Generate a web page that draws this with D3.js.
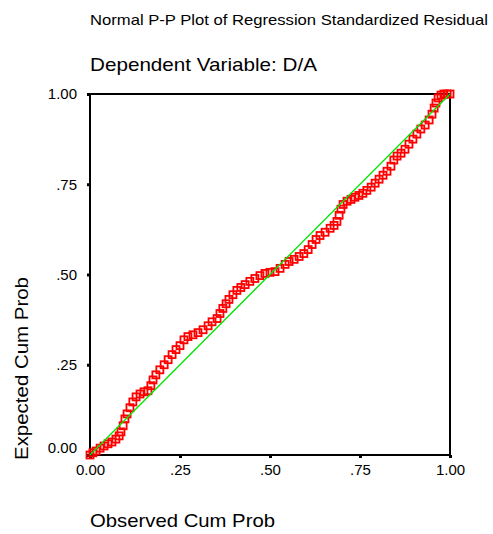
<!DOCTYPE html>
<html>
<head>
<meta charset="utf-8">
<script src="https://cdn.jsdelivr.net/npm/d3@7/dist/d3.min.js"></script>
<style>
  body { margin: 0; background: #fff; }
  text { font-family: Arial, "Liberation Sans", sans-serif; fill: #000; }
</style>
</head>
<body>
<div id="chart"></div>
<script>
/* Data */
var observedProb = [0, .008, .017, .028, .039, .050, .061, .072, .081, .086, .092, .097, .103, .111,
    .119, .128, .139, .150, .161, .169, .175, .183, .194, .206, .217, .228, .239, .250, .261,
    .272, .286, .300, .314, .328, .339, .353, .361, .369, .378, .386, .397, .408, .419, .431,
    .444, .458, .472, .486, .500, .514, .528, .542, .553, .567, .581, .594, .606, .617, .628,
    .639, .653, .667, .678, .686, .692, .697, .703, .714, .725, .736, .747, .758, .769, .781,
    .792, .803, .814, .825, .836, .844, .853, .864, .875, .886, .897, .908, .919, .931, .942,
    .950, .956, .961, .967, .975, .983, .992, 1.0];
var expectedProb = [0, .006, .011, .019, .025, .031, .036, .044, .053, .064, .081, .100, .114, .131,
    .147, .161, .169, .175, .178, .192, .208, .222, .236, .250, .264, .278, .292, .303, .319,
    .328, .333, .339, .347, .358, .369, .378, .392, .406, .419, .431, .444, .456, .464, .472,
    .481, .489, .497, .503, .506, .508, .517, .528, .536, .542, .550, .558, .569, .583, .597,
    .608, .617, .628, .636, .647, .664, .681, .694, .703, .708, .714, .719, .725, .733, .742,
    .753, .764, .775, .786, .800, .817, .828, .836, .847, .861, .875, .889, .903, .914, .928,
    .944, .961, .975, .989, .997, 1.0, 1.0, 1.0];

var tickValues = [0, .25, .5, .75, 1];
var tickLabels = ["0.00", ".25", ".50", ".75", "1.00"];

var titleText = "Normal P-P Plot of Regression Standardized Residual";
var subtitleText = "Dependent Variable: D/A";
var xTitle = "Observed Cum Prob";
var yTitle = "Expected Cum Prob";

var width = 493, height = 534;
var plotLeft = 90, plotRight = 450, plotTop = 94, plotBottom = 455;

var points = observedProb.map(function(d, i){ return {x: d, y: expectedProb[i]}; });

var svg = d3.select('#chart')
    .append('svg')
    .attr('width', width)
    .attr('height', height);

var x = d3.scaleLinear().domain([0, 1]).range([plotLeft, plotRight]);
var y = d3.scaleLinear().domain([0, 1]).range([plotBottom, plotTop]);

/* titles */
svg.append('text')
    .attr('x', 90).attr('y', 25)
    .attr('font-size', 15)
    .attr('textLength', 398).attr('lengthAdjust', 'spacingAndGlyphs')
    .text(titleText);
svg.append('text')
    .attr('x', 90).attr('y', 71)
    .attr('font-size', 19)
    .attr('textLength', 227).attr('lengthAdjust', 'spacingAndGlyphs')
    .text(subtitleText);

/* axes: small square tick marks, labels */
var xAxis = d3.axisBottom(x)
    .tickValues(tickValues)
    .tickFormat(function(d, i){ return tickLabels[i]; })
    .tickSize(3)
    .tickPadding(6);
var gx = svg.append('g')
    .attr('transform', 'translate(0,' + plotBottom + ')')
    .call(xAxis);
gx.select('.domain').remove();
gx.selectAll('line').attr('stroke', '#000').attr('stroke-width', 3);
gx.selectAll('text').attr('font-size', 15).attr('font-family', 'Arial, "Liberation Sans", sans-serif');

var yAxis = d3.axisLeft(y)
    .tickValues(tickValues)
    .tickFormat(function(d, i){ return tickLabels[i]; })
    .tickSize(3)
    .tickPadding(10);
var gy = svg.append('g')
    .attr('transform', 'translate(' + plotLeft + ',0)')
    .call(yAxis);
gy.select('.domain').remove();
gy.selectAll('line').attr('stroke', '#000').attr('stroke-width', 3);
gy.selectAll('text')
    .attr('font-size', 15)
    .attr('font-family', 'Arial, "Liberation Sans", sans-serif')
    .attr('dy', function(d){ return d === 0 ? '-0.2em' : '0.32em'; });

/* frame */
svg.append('rect')
    .attr('x', plotLeft).attr('y', plotTop)
    .attr('width', plotRight - plotLeft).attr('height', plotBottom - plotTop)
    .attr('fill', 'none')
    .attr('stroke', '#000')
    .attr('stroke-width', 2);

/* points: open red squares */
svg.append('g')
    .selectAll('rect')
    .data(points)
    .enter()
    .append('rect')
    .attr('x', function(d){ return x(d.x) - 3.5; })
    .attr('y', function(d){ return y(d.y) - 3.5; })
    .attr('width', 7)
    .attr('height', 7)
    .attr('fill', 'none')
    .attr('stroke', '#ff0000')
    .attr('stroke-width', 1.8);

/* reference diagonal */
svg.append('line')
    .attr('x1', x(0)).attr('y1', y(0))
    .attr('x2', x(1)).attr('y2', y(1))
    .attr('stroke', '#00e600')
    .attr('stroke-width', 1.3);

/* axis titles */
svg.append('text')
    .attr('x', 90).attr('y', 527)
    .attr('font-size', 19)
    .attr('textLength', 185).attr('lengthAdjust', 'spacingAndGlyphs')
    .text(xTitle);
svg.append('text')
    .attr('transform', 'translate(28,460) rotate(-90)')
    .attr('font-size', 19)
    .attr('textLength', 183).attr('lengthAdjust', 'spacingAndGlyphs')
    .text(yTitle);
</script>
</body>
</html>
